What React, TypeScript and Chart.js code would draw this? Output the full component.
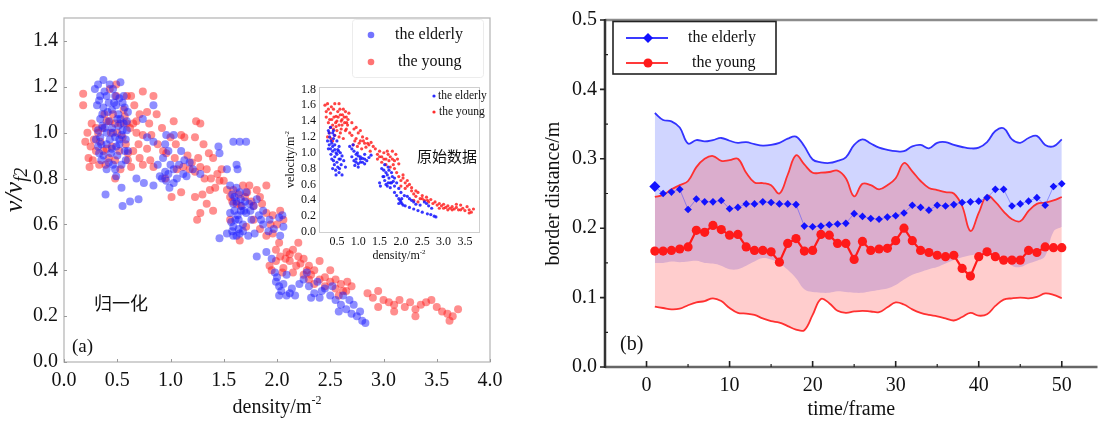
import React, { useEffect, useRef } from 'react';
import { Chart, registerables } from 'chart.js';

Chart.register(...registerables);

const SERIF = "'Liberation Serif', 'Times New Roman', serif";
const CJK = "'Noto Sans CJK SC', sans-serif";

// ---------- Panel (a): normalised speed vs density ----------
const mainXTicks = [0, 0.5, 1, 1.5, 2, 2.5, 3, 3.5, 4];
const mainYTicks = [0, 0.2, 0.4, 0.6, 0.8, 1.0, 1.2, 1.4];

const elderlyMain: [number, number][] = [
  [0.37,1.23],[0.32,1.21],[0.43,1.21],[0.53,1.22],[0.29,1.19],[0.34,1.16],[0.40,1.16],[0.48,1.16],[0.56,1.16],[0.31,1.12],
  [0.37,1.11],[0.49,1.12],[0.57,1.11],[0.60,1.09],[0.34,1.06],[0.42,1.05],[0.53,1.06],[0.59,1.05],[0.32,1.01],[0.34,0.98],
  [0.40,1.00],[0.48,0.98],[0.54,0.99],[0.59,1.01],[0.32,0.94],[0.40,0.95],[0.49,0.94],[0.57,0.92],[0.37,0.90],[0.46,0.86],
  [0.60,0.92],[0.40,0.84],[0.49,0.81],[0.54,0.76],[0.39,0.73],[0.55,0.68],[0.62,0.70],[0.70,0.71],[0.68,0.80],[0.75,0.78],
  [0.84,0.77],[0.84,1.12],[0.74,1.06],[0.78,0.98],[0.84,0.96],[0.93,0.89],[0.95,0.83],[0.90,0.81],[0.96,0.79],[1.03,0.78],
  [1.03,0.84],[1.00,0.86],[0.98,0.92],[0.95,0.95],[0.96,0.99],[1.03,0.99],[1.10,0.92],[1.13,0.88],[1.18,0.87],[1.21,0.84],
  [1.15,0.81],[1.28,0.82],[1.45,0.94],[1.46,0.91],[1.59,0.96],[1.65,0.96],[1.71,0.96],[1.53,0.84],[1.62,0.86],[1.63,0.84],
  [1.56,0.77],[1.62,0.76],[1.65,0.74],[1.71,0.74],[1.59,0.69],[1.67,0.68],[1.74,0.69],[1.81,0.71],[1.56,0.65],[1.63,0.64],
  [1.71,0.65],[1.87,0.66],[1.59,0.59],[1.65,0.56],[1.59,0.55],[1.53,0.56],[1.46,0.54],[1.73,0.55],[1.79,0.56],[1.87,0.60],
  [1.93,0.62],[2.06,0.59],[2.03,0.55],[1.81,0.46],[1.90,0.48],[1.98,0.39],[1.99,0.35],[2.04,0.31],[2.09,0.29],[2.17,0.29],
  [2.21,0.34],[2.09,0.38],[0.45,1.10],[0.51,1.08],[0.36,1.03],[0.45,1.02],[0.51,1.03],[0.43,0.97],[0.52,0.95],[0.35,0.88],
  [0.44,0.91],[0.58,0.88],[0.30,0.97],[0.47,1.13],[0.55,1.01],[1.60,0.72],[1.66,0.71],[1.61,0.62],[1.68,0.60],[1.64,0.58],
  [1.57,0.61],[1.69,0.66],[1.76,0.62],[1.83,0.64],[1.78,0.68],[2.25,0.36],[2.30,0.33],[2.35,0.30],[2.40,0.28],[2.45,0.32],
  [2.50,0.29],[2.55,0.27],[2.60,0.25],[2.65,0.23],[2.70,0.21],[2.75,0.20],[2.80,0.18],[2.83,0.17],[2.28,0.39],[2.38,0.35],
  [2.52,0.33],[2.62,0.29],[2.72,0.25],[2.12,0.30],[2.02,0.33],[2.78,0.22],[2.02,0.63],[1.97,0.58],[2.05,0.64],
  [0.33,1.14],[0.38,1.18],[0.42,1.13],[0.46,1.19],[0.52,1.15],[0.55,1.13],[0.36,1.08],[0.41,1.09],[0.50,1.06],[0.56,1.04],
  [0.38,1.02],[0.46,1.00],[0.52,0.97],[0.58,0.97],[0.35,0.95],[0.45,0.93],[0.50,0.90],[0.33,0.91],[0.42,0.87],[0.54,0.86],
  [0.48,0.84],[0.88,0.86],[0.92,0.80],[0.98,0.82],[1.08,0.86],[1.12,0.82],[1.06,0.80],[0.99,0.76],[1.58,0.73],[1.62,0.70],
  [1.66,0.66],[1.60,0.66],[1.64,0.62],[1.70,0.70],[1.58,0.57],[1.68,0.57],[1.62,0.55],[1.75,0.66],[1.85,0.62],[1.92,0.57],
  [1.95,0.45],[2.00,0.37],[2.06,0.34],[2.14,0.32],[2.02,0.29],[2.32,0.28],[2.42,0.31],[2.58,0.22],[2.68,0.27],
];

const youngMain: [number, number][] = [
  [0.18,1.17],[0.18,1.12],[0.20,0.96],[0.23,0.89],[0.24,0.85],[0.27,0.88],[0.26,1.04],[0.34,0.96],[0.42,0.89],[0.48,0.88],
  [0.43,1.19],[0.49,1.21],[0.49,1.16],[0.59,1.16],[0.63,1.16],[0.43,1.05],[0.48,1.04],[0.53,1.04],[0.59,1.04],[0.65,1.04],
  [0.46,1.08],[0.71,1.08],[0.74,1.18],[0.84,1.16],[0.78,1.09],[0.87,1.08],[0.68,1.00],[0.74,0.99],[0.82,0.99],[0.65,0.92],
  [0.71,0.89],[0.81,0.88],[0.60,0.88],[0.53,0.84],[0.48,0.80],[0.63,0.85],[0.74,0.86],[0.84,0.85],[0.93,0.92],[0.96,0.91],
  [1.04,0.89],[1.03,1.05],[1.00,0.98],[1.10,0.99],[1.13,0.98],[0.95,0.80],[1.01,0.72],[1.10,0.74],[1.06,0.84],[1.12,0.85],
  [1.18,0.84],[1.23,0.83],[1.28,0.85],[1.24,1.05],[1.28,1.04],[1.23,0.98],[1.31,0.95],[1.36,0.91],[1.40,0.89],[1.34,0.84],
  [1.44,0.82],[1.48,0.84],[1.42,0.76],[1.46,0.79],[1.37,0.75],[1.30,0.73],[1.23,0.72],[1.28,0.65],[1.34,0.69],[1.25,0.62],
  [1.40,0.66],[1.53,0.75],[1.56,0.72],[1.59,0.75],[1.68,0.77],[1.74,0.77],[1.81,0.75],[1.90,0.77],[1.84,0.72],[1.70,0.72],
  [1.62,0.69],[1.78,0.68],[1.90,0.65],[1.96,0.64],[2.03,0.66],[2.06,0.62],[1.78,0.62],[1.84,0.58],[1.90,0.55],[1.96,0.56],
  [1.65,0.53],[1.71,0.59],[1.56,0.62],[1.99,0.49],[2.03,0.46],[2.09,0.48],[2.15,0.49],[2.20,0.52],[1.93,0.42],[1.99,0.44],
  [2.12,0.44],[2.15,0.39],[2.06,0.41],[2.20,0.46],[0.30,1.02],[0.38,1.08],[0.56,1.10],[0.55,0.98],[0.40,0.93],[0.30,0.92],
  [0.66,1.12],[0.58,0.95],[2.25,0.45],[2.30,0.42],[2.35,0.40],[2.30,0.36],[2.40,0.36],[2.45,0.33],[2.50,0.35],[2.55,0.32],
  [2.60,0.34],[2.65,0.31],[2.70,0.33],[2.40,0.44],[2.50,0.40],[2.35,0.34],[2.85,0.30],[2.90,0.28],[2.95,0.31],[3.00,0.27],
  [3.05,0.26],[3.10,0.25],[3.15,0.27],[3.20,0.24],[3.25,0.26],[3.30,0.23],[3.35,0.25],[3.40,0.26],[3.45,0.27],[3.50,0.24],
  [3.55,0.22],[3.60,0.21],[3.65,0.20],[3.70,0.23],[2.95,0.24],[3.10,0.22],[3.30,0.20],[3.62,0.18],[2.25,0.38],[2.58,0.29],
  [0.22,1.00],[0.25,0.94],[0.28,0.97],[0.32,1.00],[0.36,1.02],[0.40,1.05],[0.44,1.00],[0.50,1.00],[0.57,1.07],[0.62,1.02],
  [0.68,1.05],[0.37,0.92],[0.45,0.94],[0.52,0.92],[0.60,0.91],[0.33,0.86],[0.39,0.86],[0.70,0.95],[0.78,0.93],[0.88,0.95],
  [0.92,1.02],[0.80,1.04],[1.05,0.95],[1.16,0.90],[1.20,0.87],[1.26,0.89],[1.32,0.80],[1.38,0.80],[1.50,0.79],[1.58,0.70],
  [1.64,0.73],[1.66,0.68],[1.72,0.74],[1.76,0.70],[1.86,0.69],[1.94,0.60],[2.00,0.60],[2.02,0.52],[2.08,0.45],[2.12,0.47],
  [2.18,0.42],[2.22,0.43],[2.28,0.40],[2.32,0.38],[2.45,0.37],[2.55,0.36],[2.62,0.31],[2.66,0.35],[2.05,0.39],[1.95,0.40],
];

// ---------- Inset: raw velocity vs density ----------
const insetXTicks = [0.5, 1, 1.5, 2, 2.5, 3, 3.5];
const insetYTicks = [0, 0.2, 0.4, 0.6, 0.8, 1.0, 1.2, 1.4, 1.6, 1.8];

const elderlyRaw: [number, number][] = [
  [0.30,1.28],[0.35,1.32],[0.40,1.25],[0.33,1.20],[0.42,1.18],[0.38,1.12],[0.45,1.10],[0.50,1.15],[0.55,1.08],[0.35,1.05],
  [0.40,1.02],[0.48,1.00],[0.52,1.04],[0.58,1.00],[0.62,0.96],[0.45,0.95],[0.36,0.98],[0.55,0.92],[0.42,0.90],[0.50,0.88],
  [0.60,0.85],[0.40,0.80],[0.47,0.78],[0.55,0.75],[0.62,0.72],[0.70,0.82],[0.66,0.90],[0.32,1.10],[0.28,1.15],[0.44,1.22],
  [0.80,1.08],[0.85,1.05],[0.90,1.02],[0.95,0.98],[1.00,0.96],[1.05,0.95],[1.10,0.93],[1.15,0.92],[1.20,0.90],[0.85,0.95],
  [0.90,0.90],[0.95,0.88],[1.00,0.86],[1.05,0.92],[0.92,0.84],[1.00,0.82],[1.10,0.88],[1.25,0.94],[1.30,0.97],[0.88,1.10],
  [0.98,1.00],[1.15,0.98],[1.50,0.62],[1.52,0.58],[1.58,0.70],[1.60,0.78],[1.62,0.65],[1.65,0.60],[1.68,0.72],[1.70,0.82],
  [1.72,0.68],[1.75,0.62],[1.78,0.75],[1.80,0.70],[1.82,0.64],[1.85,0.68],[1.62,0.85],[1.55,0.80],[1.68,0.58],[1.90,0.62],
  [1.75,0.56],[1.85,0.50],[1.90,0.46],[1.95,0.42],[2.00,0.38],[2.02,0.36],[1.98,0.40],[2.05,0.34],[2.10,0.33],[1.95,0.55],
  [2.00,0.50],[2.08,0.46],[2.15,0.45],[2.20,0.42],[2.25,0.40],[2.30,0.38],[2.20,0.31],[2.30,0.29],[2.40,0.27],[2.50,0.25],
  [2.55,0.38],[2.60,0.36],[2.62,0.23],[2.70,0.22],[2.78,0.20],[2.82,0.19],[2.45,0.34],
  [0.32,1.25],[0.36,1.15],[0.40,1.08],[0.45,1.04],[0.50,0.98],[0.54,1.02],[0.58,0.92],[0.38,0.92],[0.44,0.85],[0.52,0.82],
  [0.48,0.72],[0.56,0.80],[0.42,1.28],[0.30,1.05],[0.95,0.92],[1.05,0.88],[1.15,0.86],[1.60,0.70],[1.65,0.75],[1.70,0.62],
  [1.78,0.62],[1.72,0.78],[1.85,0.58],[1.95,0.36],[2.02,0.42],[2.35,0.35],[2.65,0.33],[2.72,0.30],
];

const youngRaw: [number, number][] = [
  [0.22,1.60],[0.25,1.45],[0.30,1.38],[0.35,1.50],[0.38,1.42],[0.40,1.35],[0.42,1.55],[0.45,1.62],[0.48,1.46],[0.50,1.40],
  [0.52,1.52],[0.55,1.35],[0.58,1.48],[0.60,1.30],[0.62,1.42],[0.65,1.55],[0.68,1.38],[0.70,1.28],[0.72,1.45],[0.75,1.35],
  [0.78,1.50],[0.80,1.25],[0.32,1.25],[0.28,1.20],[0.36,1.18],[0.45,1.22],[0.55,1.20],[0.65,1.18],[0.50,1.28],[0.40,1.15],
  [0.30,1.55],[0.55,1.62],[0.85,1.22],[0.90,1.30],[0.95,1.18],[1.00,1.25],[1.05,1.15],[1.10,1.20],[1.15,1.12],[1.20,1.18],
  [1.25,1.10],[1.30,1.13],[0.88,1.10],[0.98,1.08],[1.08,1.05],[1.18,1.07],[1.28,1.02],[1.40,1.05],[1.45,0.98],[1.50,1.02],
  [1.55,0.95],[1.60,1.00],[1.65,0.92],[1.70,0.98],[1.75,0.95],[1.80,1.02],[1.85,0.90],[1.88,0.98],[1.92,0.92],[1.55,0.88],
  [1.65,0.85],[1.75,0.82],[1.85,0.80],[1.95,0.86],[1.45,0.92],[1.35,1.08],[1.90,0.75],[1.95,0.70],[2.00,0.65],[2.05,0.68],
  [2.10,0.62],[2.15,0.58],[2.20,0.60],[2.25,0.52],[2.00,0.58],[2.10,0.55],[2.05,0.72],[2.30,0.48],[2.35,0.45],[2.40,0.50],
  [2.45,0.42],[2.50,0.46],[2.55,0.40],[2.60,0.44],[2.30,0.40],[2.40,0.38],[2.65,0.38],[2.70,0.41],[2.80,0.38],[2.85,0.34],
  [2.90,0.36],[2.95,0.33],[3.00,0.35],[3.05,0.31],[3.10,0.33],[3.15,0.30],[3.20,0.32],[3.25,0.29],[3.30,0.31],[3.35,0.28],
  [3.40,0.34],[3.45,0.30],[3.50,0.27],[3.55,0.32],[3.60,0.28],[3.65,0.25],[3.70,0.29],[2.90,0.30],[3.10,0.28],[3.30,0.35],
  [0.25,1.52],[0.28,1.62],[0.33,1.42],[0.37,1.58],[0.43,1.45],[0.47,1.38],[0.53,1.45],[0.57,1.55],[0.60,1.40],[0.63,1.48],
  [0.67,1.45],[0.70,1.52],[0.73,1.38],[0.76,1.42],[0.35,1.32],[0.42,1.30],[0.48,1.33],[0.58,1.25],[0.62,1.35],[0.72,1.30],
  [0.85,1.38],[0.95,1.32],[1.05,1.28],[1.12,1.15],[1.22,1.12],[0.92,1.15],[1.02,1.12],[1.50,0.95],[1.60,0.92],[1.72,0.90],
  [1.80,0.92],[1.82,0.85],[1.68,1.02],[2.15,0.65],[2.25,0.56],[2.35,0.52],[2.50,0.42],[2.62,0.40],[2.75,0.36],[3.00,0.30],
  [3.20,0.28],[3.40,0.28],[3.60,0.24],
];

// ---------- Panel (b): border distance vs time ----------
const frames = [
  1,2,3,4,5,6,7,8,9,10,11,12,13,14,15,16,17,18,19,20,21,22,23,24,25,
  26,27,28,29,30,31,32,33,34,35,36,37,38,39,40,41,42,43,44,45,46,47,48,49,50,
];
const frameTicks = [0, 10, 20, 30, 40, 50];
const distTicks = [0, 0.1, 0.2, 0.3, 0.4, 0.5];

const elderlyMean = [
  0.260,0.250,0.252,0.256,0.227,0.242,0.238,0.238,0.240,0.228,0.230,0.235,0.235,0.238,0.237,0.235,0.235,0.234,0.203,0.202,
  0.203,0.205,0.206,0.207,0.221,0.217,0.214,0.213,0.216,0.218,0.222,0.233,0.230,0.226,0.233,0.232,0.234,0.237,0.238,0.239,
  0.244,0.256,0.256,0.232,0.235,0.239,0.244,0.233,0.260,0.264,
];
const youngMean = [
  0.167,0.167,0.168,0.170,0.173,0.197,0.194,0.204,0.198,0.190,0.191,0.173,0.168,0.168,0.166,0.151,0.178,0.185,0.167,0.168,
  0.191,0.190,0.178,0.178,0.155,0.181,0.168,0.170,0.171,0.182,0.200,0.182,0.168,0.165,0.161,0.159,0.161,0.142,0.131,0.159,
  0.166,0.159,0.154,0.154,0.154,0.168,0.165,0.173,0.172,0.172,
];
const elderlyUpper = [
  0.366,0.356,0.354,0.345,0.322,0.327,0.325,0.327,0.330,0.326,0.323,0.324,0.321,0.319,0.320,0.323,0.329,0.332,0.318,0.299,
  0.295,0.294,0.297,0.302,0.320,0.328,0.322,0.316,0.313,0.311,0.311,0.318,0.320,0.315,0.323,0.324,0.320,0.317,0.315,0.316,
  0.324,0.340,0.344,0.328,0.323,0.330,0.333,0.320,0.318,0.328,
];
const elderlyLower = [
  0.150,0.150,0.152,0.151,0.152,0.153,0.150,0.149,0.146,0.141,0.141,0.146,0.152,0.157,0.155,0.150,0.140,0.128,0.112,0.108,
  0.107,0.107,0.109,0.108,0.107,0.107,0.109,0.111,0.113,0.118,0.126,0.133,0.137,0.141,0.144,0.149,0.154,0.158,0.161,0.163,
  0.164,0.162,0.158,0.146,0.144,0.149,0.153,0.160,0.195,0.202,
];
const youngUpper = [
  0.245,0.248,0.256,0.262,0.268,0.288,0.300,0.304,0.297,0.298,0.300,0.280,0.266,0.265,0.262,0.250,0.277,0.305,0.292,0.280,
  0.280,0.281,0.283,0.272,0.246,0.264,0.262,0.256,0.262,0.272,0.294,0.282,0.268,0.258,0.255,0.252,0.250,0.232,0.196,0.222,
  0.247,0.238,0.224,0.213,0.210,0.225,0.235,0.237,0.240,0.245,
];
const youngLower = [
  0.087,0.085,0.083,0.084,0.089,0.093,0.095,0.099,0.095,0.085,0.078,0.077,0.075,0.070,0.066,0.064,0.059,0.054,0.053,0.075,
  0.098,0.092,0.081,0.078,0.080,0.081,0.080,0.079,0.086,0.093,0.090,0.083,0.078,0.075,0.073,0.070,0.067,0.072,0.078,0.074,
  0.076,0.088,0.097,0.099,0.100,0.099,0.101,0.106,0.104,0.099,
];

const pts = (arr: [number, number][]) => arr.map(([x, y]) => ({ x, y }));
const series = (vals: number[]) => frames.map((f, i) => ({ x: f, y: vals[i] }));

function drawSupLabel(ctx: CanvasRenderingContext2D, base: string, sup: string, cx: number, cy: number, size: number) {
  ctx.font = `${size}px ${SERIF}`;
  const w1 = ctx.measureText(base).width;
  const small = Math.round(size * 0.62);
  ctx.font = `${small}px ${SERIF}`;
  const w2 = ctx.measureText(sup).width;
  const start = cx - (w1 + w2) / 2;
  ctx.textAlign = 'left';
  ctx.textBaseline = 'alphabetic';
  ctx.font = `${size}px ${SERIF}`;
  ctx.fillText(base, start, cy + size * 0.33);
  ctx.font = `${small}px ${SERIF}`;
  ctx.fillText(sup, start + w1, cy + size * 0.33 - size * 0.42);
}

const leftDecor = {
  id: 'leftDecor',
  afterDraw(chart: any) {
    const { ctx, chartArea: a, scales } = chart;
    const xs = scales.x, ys = scales.y;
    ctx.save();
    ctx.strokeStyle = '#b8b8b8';
    ctx.lineWidth = 1.3;
    ctx.strokeRect(a.left, a.top, a.right - a.left, a.bottom - a.top);
    ctx.strokeStyle = '#999';
    ctx.lineWidth = 1;
    ctx.beginPath();
    for (const v of mainXTicks) { const p = Math.round(xs.getPixelForValue(v)) + 0.5; ctx.moveTo(p, a.bottom); ctx.lineTo(p, a.bottom - 3); }
    for (const v of mainYTicks) { const p = Math.round(ys.getPixelForValue(v)) + 0.5; ctx.moveTo(a.left, p); ctx.lineTo(a.left + 3, p); }
    ctx.stroke();

    ctx.fillStyle = '#111';
    drawSupLabel(ctx, 'density/m', '-2', (a.left + a.right) / 2, 406, 20);

    // y title  v/v_f2
    ctx.save();
    ctx.translate(14, (a.top + a.bottom) / 2);
    ctx.rotate(-Math.PI / 2);
    ctx.font = `italic 26px ${SERIF}`;
    const w1 = ctx.measureText('ν/ν').width;
    ctx.font = `italic 18px ${SERIF}`;
    const w2 = ctx.measureText('f2').width;
    const st = -(w1 + w2) / 2;
    ctx.textAlign = 'left';
    ctx.textBaseline = 'alphabetic';
    ctx.font = `italic 26px ${SERIF}`;
    ctx.fillText('ν/ν', st, 8);
    ctx.font = `italic 18px ${SERIF}`;
    ctx.fillText('f2', st + w1, 13);
    ctx.restore();

    // legend
    ctx.strokeStyle = '#ececec';
    ctx.lineWidth = 1;
    ctx.beginPath();
    ctx.roundRect(352.5, 19.5, 131, 58, 3);
    ctx.stroke();
    ctx.fillStyle = 'rgba(40,40,255,0.65)';
    ctx.beginPath(); ctx.arc(371, 35, 3.3, 0, Math.PI * 2); ctx.fill();
    ctx.fillStyle = 'rgba(255,40,40,0.65)';
    ctx.beginPath(); ctx.arc(371, 62, 3.3, 0, Math.PI * 2); ctx.fill();
    ctx.fillStyle = '#111';
    ctx.font = `16px ${SERIF}`;
    ctx.textAlign = 'left';
    ctx.textBaseline = 'middle';
    ctx.fillText('the elderly', 395, 35);
    ctx.fillText('the young', 398, 62);

    ctx.font = `18px ${CJK}`;
    ctx.fillText('归一化', 94, 303);
    ctx.font = `19px ${SERIF}`;
    ctx.fillText('(a)', 72, 347);
    ctx.restore();
  },
};

const insetDecor = {
  id: 'insetDecor',
  afterDraw(chart: any) {
    const { ctx, chartArea: a } = chart;
    ctx.save();
    ctx.strokeStyle = '#cfcfcf';
    ctx.lineWidth = 1;
    ctx.strokeRect(a.left + 0.5, a.top + 0.5, a.right - a.left, a.bottom - a.top);
    ctx.fillStyle = '#111';
    drawSupLabel(ctx, 'density/m', '-2', (a.left + a.right) / 2, 180, 12);
    ctx.save();
    ctx.translate(9, (a.top + a.bottom) / 2);
    ctx.rotate(-Math.PI / 2);
    drawSupLabel(ctx, 'velocity/m', '-2', 0, 0, 12);
    ctx.restore();

    ctx.fillStyle = 'rgba(20,20,255,0.9)';
    ctx.beginPath(); ctx.arc(153, 21, 1.6, 0, Math.PI * 2); ctx.fill();
    ctx.fillStyle = 'rgba(255,20,20,0.9)';
    ctx.beginPath(); ctx.arc(153, 37, 1.6, 0, Math.PI * 2); ctx.fill();
    ctx.fillStyle = '#111';
    ctx.font = `11.5px ${SERIF}`;
    ctx.textAlign = 'left';
    ctx.textBaseline = 'middle';
    ctx.fillText('the elderly', 157, 21);
    ctx.fillText('the young', 158, 37);
    ctx.font = `15px ${CJK}`;
    ctx.fillText('原始数据', 136, 81);
    ctx.restore();
  },
};

const rightDecor = {
  id: 'rightDecor',
  afterDraw(chart: any) {
    const { ctx, chartArea: a, scales } = chart;
    const xs = scales.x, ys = scales.y;
    ctx.save();
    // spines
    ctx.lineCap = 'butt';
    ctx.strokeStyle = '#8c8c8c';
    ctx.lineWidth = 2.5;
    ctx.beginPath(); ctx.moveTo(a.left, a.top); ctx.lineTo(a.right, a.top); ctx.stroke();
    ctx.strokeStyle = '#666';
    ctx.beginPath(); ctx.moveTo(a.left, a.bottom); ctx.lineTo(a.right, a.bottom); ctx.stroke();
    ctx.strokeStyle = '#333';
    ctx.beginPath(); ctx.moveTo(a.left, a.top - 1); ctx.lineTo(a.left, a.bottom + 1); ctx.stroke();
    // ticks
    ctx.strokeStyle = '#222';
    ctx.lineWidth = 1.6;
    ctx.beginPath();
    for (const v of distTicks) { const p = ys.getPixelForValue(v); ctx.moveTo(a.left - 5, p); ctx.lineTo(a.left, p); }
    for (const v of frameTicks) { const p = xs.getPixelForValue(v); ctx.moveTo(p, a.bottom); ctx.lineTo(p, a.bottom - 6); }
    ctx.stroke();
    ctx.lineWidth = 1.2;
    ctx.beginPath();
    for (let i = 0; i < distTicks.length - 1; i++) {
      const p = ys.getPixelForValue((distTicks[i] + distTicks[i + 1]) / 2);
      ctx.moveTo(a.left, p); ctx.lineTo(a.left + 3, p);
    }
    for (let i = 0; i < frameTicks.length - 1; i++) {
      const p = xs.getPixelForValue((frameTicks[i] + frameTicks[i + 1]) / 2);
      ctx.moveTo(p, a.bottom); ctx.lineTo(p, a.bottom - 3);
    }
    ctx.stroke();

    // titles
    ctx.fillStyle = '#111';
    ctx.font = `20px ${SERIF}`;
    ctx.textAlign = 'center';
    ctx.textBaseline = 'middle';
    ctx.fillText('time/frame', (a.left + a.right) / 2, 410);
    ctx.save();
    ctx.translate(14, (a.top + a.bottom) / 2);
    ctx.rotate(-Math.PI / 2);
    ctx.fillText('border distance/m', 0, 0);
    ctx.restore();
    ctx.textAlign = 'left';
    ctx.fillText('(b)', 80, 345);

    // legend
    ctx.strokeStyle = '#222';
    ctx.lineWidth = 1.6;
    ctx.strokeRect(73, 21.5, 163, 52.5);
    ctx.lineWidth = 2;
    ctx.strokeStyle = '#3a3aff';
    ctx.beginPath(); ctx.moveTo(86, 38); ctx.lineTo(128, 38); ctx.stroke();
    ctx.fillStyle = '#1010ff';
    ctx.beginPath(); ctx.moveTo(108, 33); ctx.lineTo(113, 38); ctx.lineTo(108, 43); ctx.lineTo(103, 38); ctx.closePath(); ctx.fill();
    ctx.strokeStyle = '#ff3a3a';
    ctx.beginPath(); ctx.moveTo(86, 63); ctx.lineTo(128, 63); ctx.stroke();
    ctx.fillStyle = '#ff1a1a';
    ctx.beginPath(); ctx.arc(108, 63, 4.5, 0, Math.PI * 2); ctx.fill();
    ctx.fillStyle = '#111';
    ctx.font = `16px ${SERIF}`;
    ctx.fillText('the elderly', 148, 38);
    ctx.fillText('the young', 152, 63);
    ctx.restore();
  },
};

export default function App() {
  const leftRef = useRef<HTMLCanvasElement>(null);
  const insetRef = useRef<HTMLCanvasElement>(null);
  const rightRef = useRef<HTMLCanvasElement>(null);

  useEffect(() => {
    const tickFont = (size: number) => ({ family: SERIF, size });
    const left = new Chart(leftRef.current as HTMLCanvasElement, {
      type: 'scatter',
      data: {
        datasets: [
          { label: 'the elderly', data: pts(elderlyMain), backgroundColor: 'rgba(30,30,255,0.5)', borderWidth: 0, pointRadius: 4 },
          { label: 'the young', data: pts(youngMain), backgroundColor: 'rgba(255,30,30,0.5)', borderWidth: 0, pointRadius: 4 },
        ],
      },
      options: {
        animation: false,
        responsive: false,
        layout: { padding: { top: 11, right: 50, left: 0, bottom: 0 } },
        plugins: { legend: { display: false }, tooltip: { enabled: false } },
        scales: {
          x: {
            type: 'linear', min: 0, max: 4,
            grid: { display: false, drawTicks: false }, border: { display: false },
            ticks: { padding: 7, autoSkip: false, color: '#111', font: tickFont(20), callback: (v: any) => Number(v).toFixed(1) },
            afterBuildTicks: (s: any) => { s.ticks = mainXTicks.map((value) => ({ value })); },
            afterFit: (s: any) => { s.height = 61; },
          },
          y: {
            type: 'linear', min: 0, max: 1.5,
            grid: { display: false, drawTicks: false }, border: { display: false },
            ticks: { padding: 6, autoSkip: false, color: '#111', font: tickFont(20), callback: (v: any) => Number(v).toFixed(1) },
            afterBuildTicks: (s: any) => { s.ticks = mainYTicks.map((value) => ({ value })); },
            afterFit: (s: any) => { s.width = 64; },
          },
        },
      } as any,
      plugins: [leftDecor],
    });

    const inset = new Chart(insetRef.current as HTMLCanvasElement, {
      type: 'scatter',
      data: {
        datasets: [
          { label: 'the elderly', data: pts(elderlyRaw), backgroundColor: 'rgba(20,20,255,0.85)', borderWidth: 0, pointRadius: 1.6 },
          { label: 'the young', data: pts(youngRaw), backgroundColor: 'rgba(255,20,20,0.8)', borderWidth: 0, pointRadius: 1.6 },
        ],
      },
      options: {
        animation: false,
        responsive: false,
        layout: { padding: { top: 12, right: 9, left: 0, bottom: 0 } },
        plugins: { legend: { display: false }, tooltip: { enabled: false } },
        scales: {
          x: {
            type: 'linear', min: 0.08, max: 3.83,
            grid: { display: false, drawTicks: false }, border: { display: false },
            ticks: { padding: 3, autoSkip: false, maxRotation: 0, color: '#111', font: tickFont(12), callback: (v: any) => Number(v).toFixed(1) },
            afterBuildTicks: (s: any) => { s.ticks = insetXTicks.map((value) => ({ value })); },
            afterFit: (s: any) => { s.height = 33; },
          },
          y: {
            type: 'linear', min: 0, max: 1.83,
            grid: { display: false, drawTicks: false }, border: { display: false },
            ticks: { padding: 3, autoSkip: false, color: '#111', font: tickFont(12), callback: (v: any) => Number(v).toFixed(1) },
            afterBuildTicks: (s: any) => { s.ticks = insetYTicks.map((value) => ({ value })); },
            afterFit: (s: any) => { s.width = 38; },
          },
        },
      } as any,
      plugins: [insetDecor],
    });

    const right = new Chart(rightRef.current as HTMLCanvasElement, {
      type: 'line',
      data: {
        datasets: [
          {
            label: 'the elderly', data: series(elderlyMean), borderColor: 'rgba(70,70,255,0.5)', borderWidth: 1,
            pointStyle: 'rectRot', pointRadius: (c: any) => (c.dataIndex === 0 ? 5.5 : 3.8), pointBackgroundColor: '#1212ff',
            pointBorderWidth: 0, tension: 0, fill: false,
          },
          {
            label: 'the young', data: series(youngMean), borderColor: '#ff1a1a', borderWidth: 2.2,
            pointStyle: 'circle', pointRadius: 4.6, pointBackgroundColor: '#ff1a1a', pointBorderWidth: 0, tension: 0, fill: false,
          },
          {
            label: 'young upper', data: series(youngUpper), borderColor: '#ff3030', borderWidth: 1.8, pointRadius: 0, tension: 0.4,
            fill: { target: 3, above: 'rgba(255,40,40,0.23)', below: 'rgba(255,40,40,0.23)' },
          },
          { label: 'young lower', data: series(youngLower), borderColor: '#ff3030', borderWidth: 1.8, pointRadius: 0, tension: 0.4, fill: false },
          {
            label: 'elderly upper', data: series(elderlyUpper), borderColor: '#3333ff', borderWidth: 1.8, pointRadius: 0, tension: 0.4,
            fill: { target: 5, above: 'rgba(60,80,255,0.24)', below: 'rgba(60,80,255,0.24)' },
          },
          { label: 'elderly lower', data: series(elderlyLower), borderColor: 'rgba(0,0,0,0)', borderWidth: 0, pointRadius: 0, tension: 0.4, fill: false },
        ],
      },
      options: {
        animation: false,
        responsive: false,
        layout: { padding: { top: 11, right: 0, left: 0, bottom: 0 } },
        plugins: { legend: { display: false }, tooltip: { enabled: false }, filler: { drawTime: 'beforeDatasetsDraw' } },
        scales: {
          x: {
            type: 'linear', min: -5, max: 54.3,
            grid: { display: false, drawTicks: false }, border: { display: false },
            ticks: { padding: 7, autoSkip: false, color: '#111', font: tickFont(20), callback: (v: any) => String(v) },
            afterBuildTicks: (s: any) => { s.ticks = frameTicks.map((value) => ({ value })); },
            afterFit: (s: any) => { s.height = 56; },
          },
          y: {
            type: 'linear', min: 0, max: 0.5,
            grid: { display: false, drawTicks: false }, border: { display: false },
            ticks: { padding: 8, autoSkip: false, color: '#111', font: tickFont(20), callback: (v: any) => Number(v).toFixed(1) },
            afterBuildTicks: (s: any) => { s.ticks = distTicks.map((value) => ({ value })); },
            afterFit: (s: any) => { s.width = 65; },
          },
        },
      } as any,
      plugins: [rightDecor],
    });

    return () => {
      left.destroy();
      inset.destroy();
      right.destroy();
    };
  }, []);

  return (
    <div style={{ position: 'absolute', left: 0, top: 0, width: 1103, height: 423, background: '#fff', overflow: 'hidden' }}>
      <canvas ref={leftRef} width={540} height={423} style={{ position: 'absolute', left: 0, top: 0, width: 540, height: 423 }} />
      <canvas ref={insetRef} width={207} height={190} style={{ position: 'absolute', left: 281, top: 75, width: 207, height: 190 }} />
      <canvas ref={rightRef} width={563} height={423} style={{ position: 'absolute', left: 540, top: 0, width: 563, height: 423 }} />
    </div>
  );
}
